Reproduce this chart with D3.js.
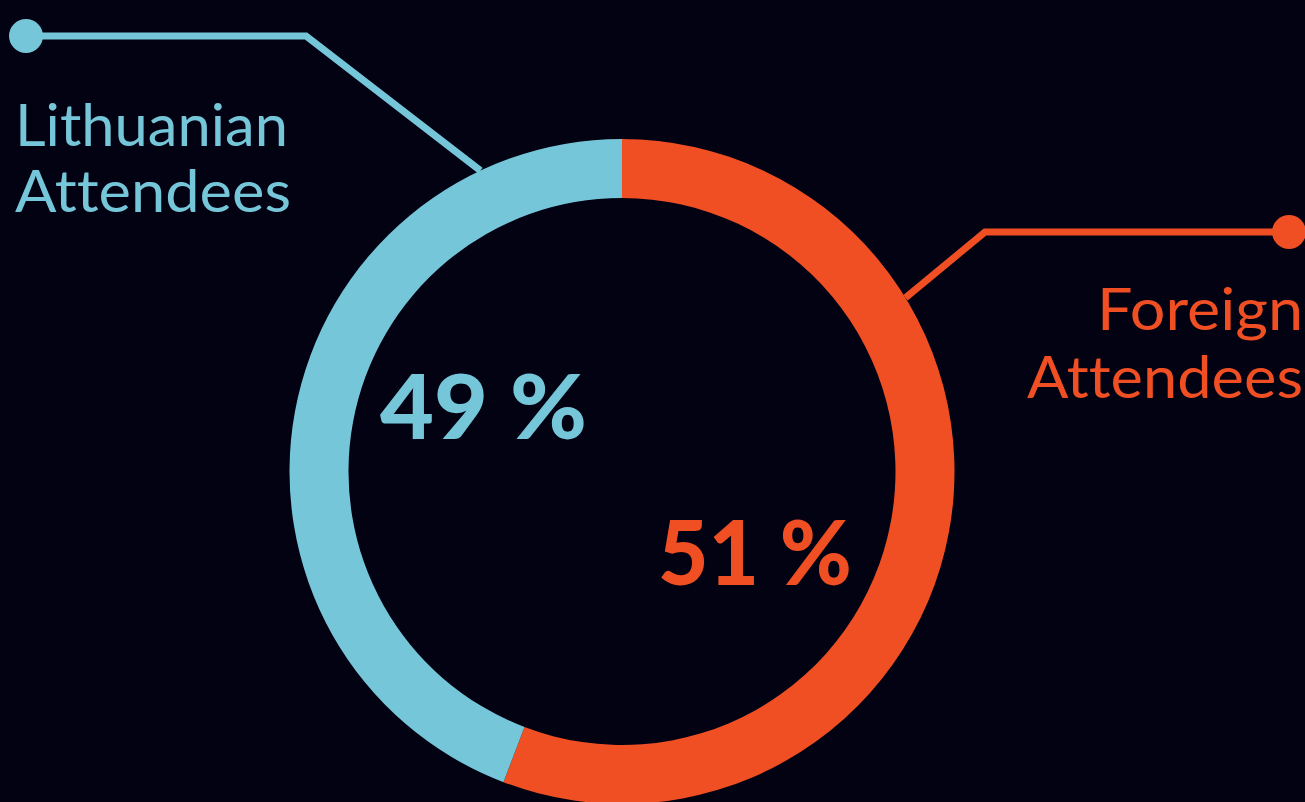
<!DOCTYPE html>
<html>
<head>
<meta charset="utf-8">
<script src="https://cdn.jsdelivr.net/npm/d3@7"></script>
<style>
  html, body { margin: 0; padding: 0; background: #020212; overflow: hidden; }
  svg { display: block; }
  text { font-variant-ligatures: none; font-feature-settings: "liga" 0, "dlig" 0; }
</style>
</head>
<body>
<div id="chart"></div>
<script>
// segments, clockwise from 12 o'clock
const categories = ["Foreign", "Lithuanian"];
const labelLines = [["Foreign", "Attendees"], ["Lithuanian", "Attendees"]];
const percentLabels = ["51 %", "49 %"];
// share of the ring each segment covers, as drawn in the picture
const ringShares = [55.8, 44.2];
const colors = ["#f04e23", "#76c6d9"];

const width = 1305;
const height = 802;
const cx = 622, cy = 471.5;
const outerR = 332.5, innerR = 273.5;

const svg = d3.select("#chart")
  .append("svg")
  .attr("width", width)
  .attr("height", height);

svg.append("rect")
  .attr("width", width)
  .attr("height", height)
  .attr("fill", "#020212");

const color = d3.scaleOrdinal().domain(categories).range(colors);

const pie = d3.pie().sort(null).value(d => d.share);
const arc = d3.arc().innerRadius(innerR).outerRadius(outerR);

const pieData = pie(categories.map((c, i) => ({ name: c, share: ringShares[i] })));

const ring = svg.append("g").attr("transform", `translate(${cx},${cy})`);

ring.selectAll("path")
  .data(pieData)
  .enter()
  .append("path")
  .attr("d", arc)
  .attr("fill", d => color(d.data.name));

// leader lines: dot -> elbow -> ring edge
function edgePoint(deg) {
  const a = deg * Math.PI / 180;
  return [cx + outerR * Math.sin(a), cy - outerR * Math.cos(a)];
}

const leaders = [
  { name: "Foreign", dot: [1289, 232], elbow: [985, 232], angle: 58.5 },
  { name: "Lithuanian", dot: [26, 36], elbow: [306, 36], angle: -25.2 }
];

const line = d3.line();

leaders.forEach(l => {
  svg.append("path")
    .attr("d", line([l.dot, l.elbow, edgePoint(l.angle)]))
    .attr("fill", "none")
    .attr("stroke", color(l.name))
    .attr("stroke-width", 7)
    .attr("stroke-linejoin", "miter");
  svg.append("circle")
    .attr("cx", l.dot[0])
    .attr("cy", l.dot[1])
    .attr("r", 17)
    .attr("fill", color(l.name));
});

// category names
const nameFont = "Lato, 'DejaVu Sans', sans-serif";
const namePos = [
  { x: 1303, ys: [330, 398], anchor: "end", widths: [206, 276] },
  { x: 15, ys: [146, 212], anchor: "start", widths: [273, 276] }
];

categories.forEach((c, i) => {
  labelLines[i].forEach((t, j) => {
    svg.append("text")
      .attr("x", namePos[i].x)
      .attr("y", namePos[i].ys[j])
      .attr("text-anchor", namePos[i].anchor)
      .attr("font-family", nameFont)
      .attr("font-size", 59)
      .attr("font-weight", 400)
      .attr("textLength", namePos[i].widths[j])
      .attr("lengthAdjust", "spacingAndGlyphs")
      .attr("fill", color(c))
      .text(t);
  });
});

// percentages inside the ring
const pctPos = [
  { x: 658, y: 585, w: 194 },
  { x: 380, y: 439, w: 207 }
];

categories.forEach((c, i) => {
  svg.append("text")
    .attr("x", pctPos[i].x)
    .attr("y", pctPos[i].y)
    .attr("font-family", nameFont)
    .attr("font-size", 89)
    .attr("font-weight", 900)
    .attr("textLength", pctPos[i].w)
    .attr("lengthAdjust", "spacingAndGlyphs")
    .attr("fill", color(c))
    .text(percentLabels[i]);
});
</script>
</body>
</html>
